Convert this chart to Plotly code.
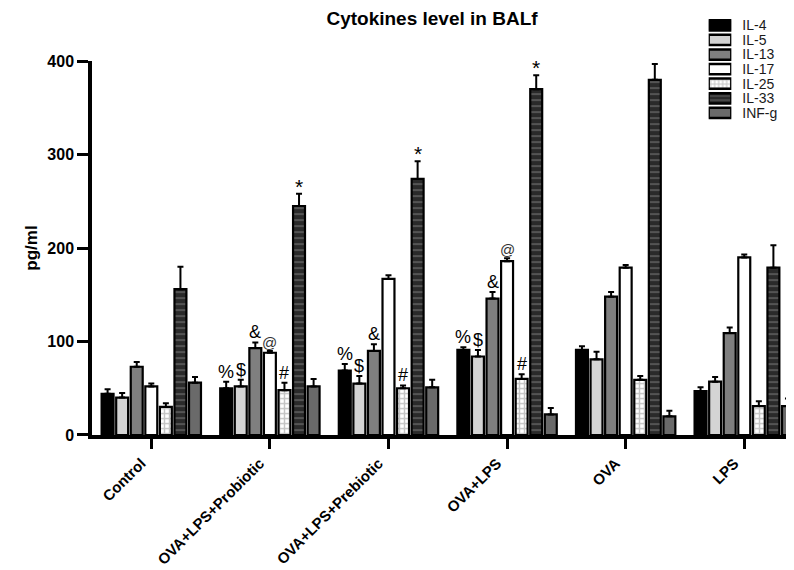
import plotly.graph_objects as go

groups = ["Control", "OVA+LPS+Probiotic", "OVA+LPS+Prebiotic", "OVA+LPS", "OVA", "LPS"]
series = ["IL-4", "IL-5", "IL-13", "IL-17", "IL-25", "IL-33", "INF-g"]

il4 = [44, 50, 69, 91, 91, 47]
il5 = [40, 52, 55, 84, 81, 57]
il13 = [73, 93, 90, 146, 148, 109]
il17 = [52, 88, 167, 186, 179, 190]
il25 = [30, 48, 50, 60, 59, 31]
il33 = [156, 245, 274, 370, 380, 179]
infg = [56, 52, 51, 22, 20, 31]

il4_err = [5, 7, 7, 3, 4, 4]
il5_err = [5, 7, 8, 7, 8, 5]
il13_err = [5, 6, 7, 7, 5, 6]
il17_err = [3, 2, 4, 3, 3, 3]
il25_err = [4, 8, 3, 5, 4, 5]
il33_err = [24, 13, 19, 15, 17, 24]
infg_err = [6, 8, 8, 7, 6, 8]

y_ticks = [0, 100, 200, 300, 400]

# significance marks: (group index, series index, symbol)
marks = [
    (1, 0, "%"), (1, 1, "$"), (1, 2, "&"), (1, 3, "@"), (1, 4, "#"), (1, 5, "*"),
    (2, 0, "%"), (2, 1, "$"), (2, 2, "&"), (2, 4, "#"), (2, 5, "*"),
    (3, 0, "%"), (3, 1, "$"), (3, 2, "&"), (3, 3, "@"), (3, 4, "#"), (3, 5, "*"),
]

values = [il4, il5, il13, il17, il25, il33, infg]
errors = [il4_err, il5_err, il13_err, il17_err, il25_err, il33_err, infg_err]

styles = [
    dict(color="#000000"),
    dict(color="#d4d4d4"),
    dict(color="#7f7f7f"),
    dict(color="#ffffff"),
    dict(color="#ffffff", pattern=dict(shape="+", fgcolor="#8a8a8a", size=5, solidity=0.5, fillmode="overlay")),
    dict(color="#2a2a2a", pattern=dict(shape="-", fgcolor="#9a9a9a", size=6, solidity=0.25, fillmode="overlay")),
    dict(color="#6a6a6a"),
]

FONT = "Liberation Sans, Arial, sans-serif"

fig = go.Figure()
for name, vals, errs, st in zip(series, values, errors, styles):
    marker = dict(line=dict(color="black", width=2.2), **st)
    fig.add_trace(go.Bar(
        x=groups, y=vals, name=name, marker=marker, showlegend=False,
        error_y=dict(type="data", array=errs, arrayminus=[0] * len(errs), symmetric=False,
                     color="black", thickness=2, width=3),
    ))

# legend drawn as a small horizontal bar chart (swatches) in the top-right corner
for name, st in zip(series, styles):
    st2 = dict(st)
    if "pattern" in st2:
        p = dict(st2["pattern"])
        p["size"] = 4
        st2["pattern"] = p
    fig.add_trace(go.Bar(
        y=[name], x=[1], orientation="h", xaxis="x2", yaxis="y2", width=0.7,
        marker=dict(line=dict(color="black", width=2.5), **st2),
        showlegend=False, hoverinfo="skip",
    ))

bargap = 0.14
spacing_px = 118.6
pitch = spacing_px * (1 - bargap) / len(series)
for gi, si, sym in marks:
    top = values[si][gi] + errors[si][gi]
    big = sym == "*"
    fig.add_annotation(
        x=groups[gi], y=top, text=sym, showarrow=False, yanchor="bottom",
        xshift=(si - 3) * pitch, yshift=-2 if not big else -6,
        font=dict(family=FONT, size=15 if sym == "@" else (21 if big else 18),
                  color="#333333" if sym == "@" else "black"),
    )

fig.update_layout(
    width=794, height=570,
    paper_bgcolor="white", plot_bgcolor="white",
    margin=dict(l=84, r=2, t=5, b=143),
    barmode="group", bargap=bargap, bargroupgap=0.18,
    title=dict(text="<b>Cytokines level in BALf</b>", xref="container", x=0.534, xanchor="center",
               yref="container", y=0.993, yanchor="top",
               font=dict(family=FONT, size=19, color="black")),
    font=dict(family=FONT, color="black"),
    showlegend=False,
    xaxis=dict(
        domain=[0, 1], automargin=False,
        range=[-0.5, 5.47], showline=True, linecolor="black", linewidth=3.5,
        ticks="outside", ticklen=10, tickwidth=3, tickcolor="black",
        tickangle=-45, tickfont=dict(size=15, family=FONT, color="black"),
        ticklabelshift=-10,
        tickmode="array", tickvals=groups, ticktext=["<b>" + g + "</b>" for g in groups],
        showgrid=False, zeroline=False,
    ),
    yaxis=dict(
        domain=[0, 0.886], automargin=False,
        range=[0, 400], showline=True, linecolor="black", linewidth=3.5,
        ticks="outside", ticklen=11, tickwidth=3, tickcolor="black",
        tickvals=y_ticks, ticktext=["<b>%d</b>" % v for v in y_ticks],
        tickfont=dict(size=16, family=FONT, color="black"),
        title=dict(text="<b>pg/ml</b>", font=dict(size=17, color="black"), standoff=6),
        showgrid=False, zeroline=False,
    ),
    xaxis2=dict(domain=[0.871, 0.903], range=[0, 1], visible=False, fixedrange=True),
    yaxis2=dict(domain=[0.746, 0.988], anchor="x2", autorange="reversed", type="category",
                side="right", showline=False, ticks="", showgrid=False, zeroline=False,
                tickmode="array", tickvals=series, ticktext=series, automargin=False,
                tickfont=dict(size=14, family=FONT, color="#1a1a1a"), ticklabelstandoff=10,
                fixedrange=True),
)

fig.write_html("out.html")
